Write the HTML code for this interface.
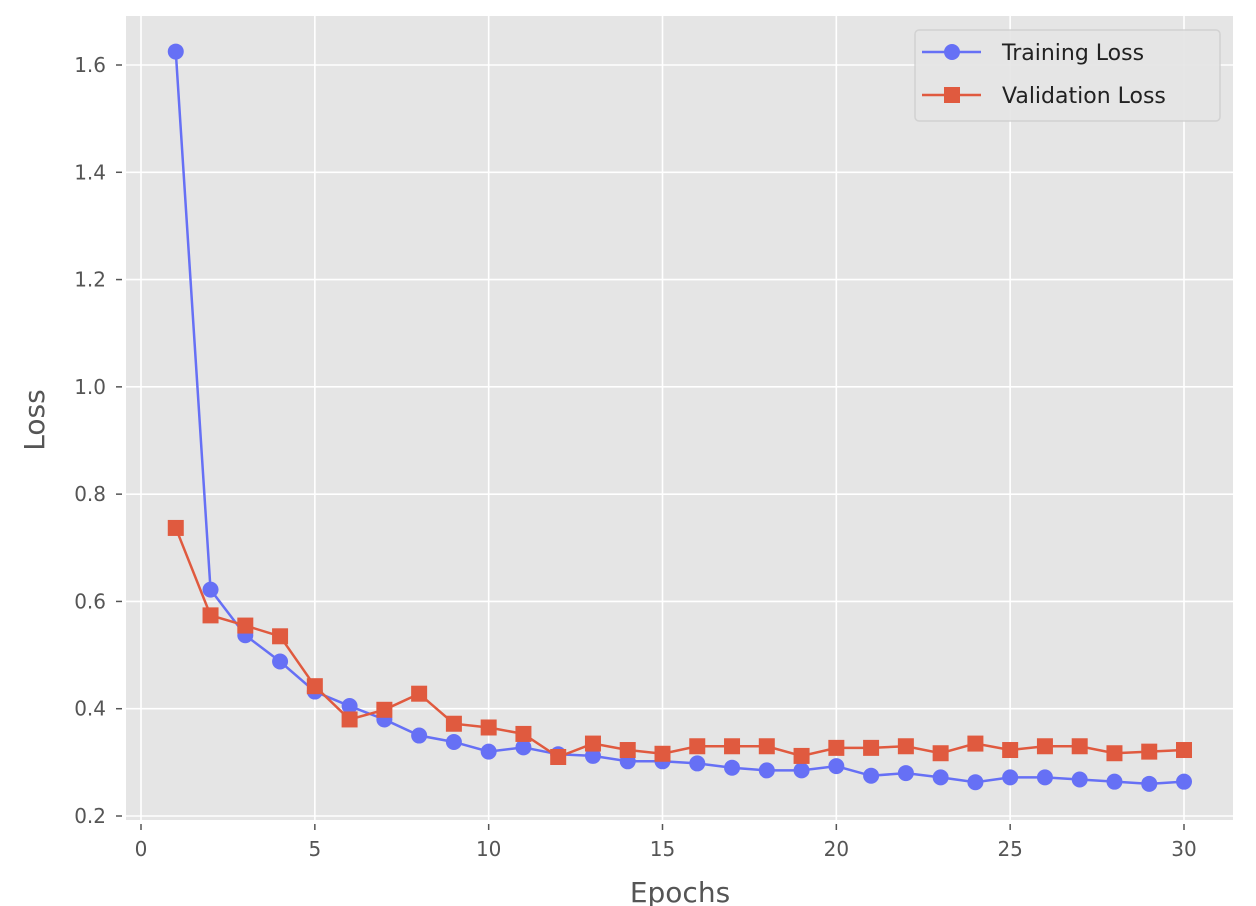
<!DOCTYPE html>
<html><head><meta charset="utf-8"><style>
body{margin:0;background:#fff;}
svg{display:block;font-family:"DejaVu Sans","Liberation Sans",sans-serif;}
</style></head><body>
<svg id="chart" width="1256" height="906">
<rect x="126" y="16" width="1107" height="804" fill="#e5e5e5"/>
<g id="grid"></g><g id="ticks"></g><g id="series"></g>
<text x="680" y="902" font-size="28" fill="#555" text-anchor="middle">Epochs</text>
<text transform="translate(44,420) rotate(-90)" font-size="28" fill="#555" text-anchor="middle">Loss</text>
<g>
<rect x="915" y="30" width="305" height="91" rx="4" fill="#e5e5e5" stroke="#d0d0d0" stroke-width="1.5" opacity="0.9"/>
<g>
<line x1="922" y1="52" x2="981" y2="52" stroke="#6670f5" stroke-width="2.5"/>
<circle cx="952" cy="52" r="8" fill="#6670f5"/>
<text x="1002" y="60" font-size="22" fill="#222">Training Loss</text></g>
<g>
<line x1="922" y1="95" x2="981" y2="95" stroke="#e05a3f" stroke-width="2.5"/>
<rect x="944" y="87" width="16" height="16" fill="#e05a3f"/>
<text x="1002" y="103" font-size="22" fill="#222">Validation Loss</text></g>
</g>
</svg>
<script>
const epochs=[1,2,3,4,5,6,7,8,9,10,11,12,13,14,15,16,17,18,19,20,21,22,23,24,25,26,27,28,29,30];
const trainLoss=[1.625,0.622,0.537,0.488,0.432,0.405,0.380,0.350,0.338,0.320,0.328,0.315,0.312,0.302,0.302,0.298,0.290,0.285,0.285,0.293,0.275,0.280,0.272,0.263,0.272,0.272,0.268,0.264,0.260,0.264];
const valLoss=[0.737,0.574,0.555,0.535,0.442,0.380,0.398,0.428,0.372,0.365,0.353,0.310,0.335,0.323,0.316,0.330,0.330,0.330,0.312,0.327,0.327,0.330,0.317,0.335,0.323,0.330,0.330,0.317,0.320,0.323];
const xTicks=[0,5,10,15,20,25,30];
const yTicks=[0.2,0.4,0.6,0.8,1.0,1.2,1.4,1.6];
const NS="http://www.w3.org/2000/svg";
const xs=v=>141+(v-0)*(1184-141)/30;
const ys=v=>816-(v-0.2)*(816-65)/1.4;
function mk(t,a,p){const e=document.createElementNS(NS,t);for(const k in a)e.setAttribute(k,a[k]);p.appendChild(e);return e;}
const grid=document.getElementById('grid'),ticks=document.getElementById('ticks'),ser=document.getElementById('series');
xTicks.forEach(t=>{const x=xs(t);
 const g=mk('line',{x1:x,x2:x,y1:16,y2:820,stroke:'#fff','stroke-width':1.6},grid);
 
 
 mk('line',{x1:x,x2:x,y1:824,y2:830,stroke:'#555','stroke-width':1.5},ticks);
 const l=mk('text',{x:x,y:856,'font-size':20,fill:'#555','text-anchor':'middle'},ticks);l.textContent=t;
 
 });
yTicks.forEach(t=>{const y=ys(t);
 const g=mk('line',{x1:126,x2:1233,y1:y,y2:y,stroke:'#fff','stroke-width':1.6},grid);
 
 
 mk('line',{x1:116,x2:122,y1:y,y2:y,stroke:'#555','stroke-width':1.5},ticks);
 const l=mk('text',{x:106,y:y+7,'font-size':20,fill:'#555','text-anchor':'end'},ticks);l.textContent=t.toFixed(1);
 
 });
function series(vals,color,shape,name){
 const p=mk('polyline',{points:vals.map((v,i)=>xs(epochs[i])+','+ys(v)).join(' '),fill:'none',stroke:color,'stroke-width':2.5},ser);
 
 
 vals.forEach((v,i)=>{const x=xs(epochs[i]),y=ys(v);let m;
  if(shape==='c')m=mk('circle',{cx:x,cy:y,r:8,fill:color},ser);
  else m=mk('rect',{x:x-8,y:y-8,width:16,height:16,fill:color},ser);
  
  });
}
series(trainLoss,'#6670f5','c','training-loss');
series(valLoss,'#e05a3f','s','validation-loss');
</script>
</body></html>
